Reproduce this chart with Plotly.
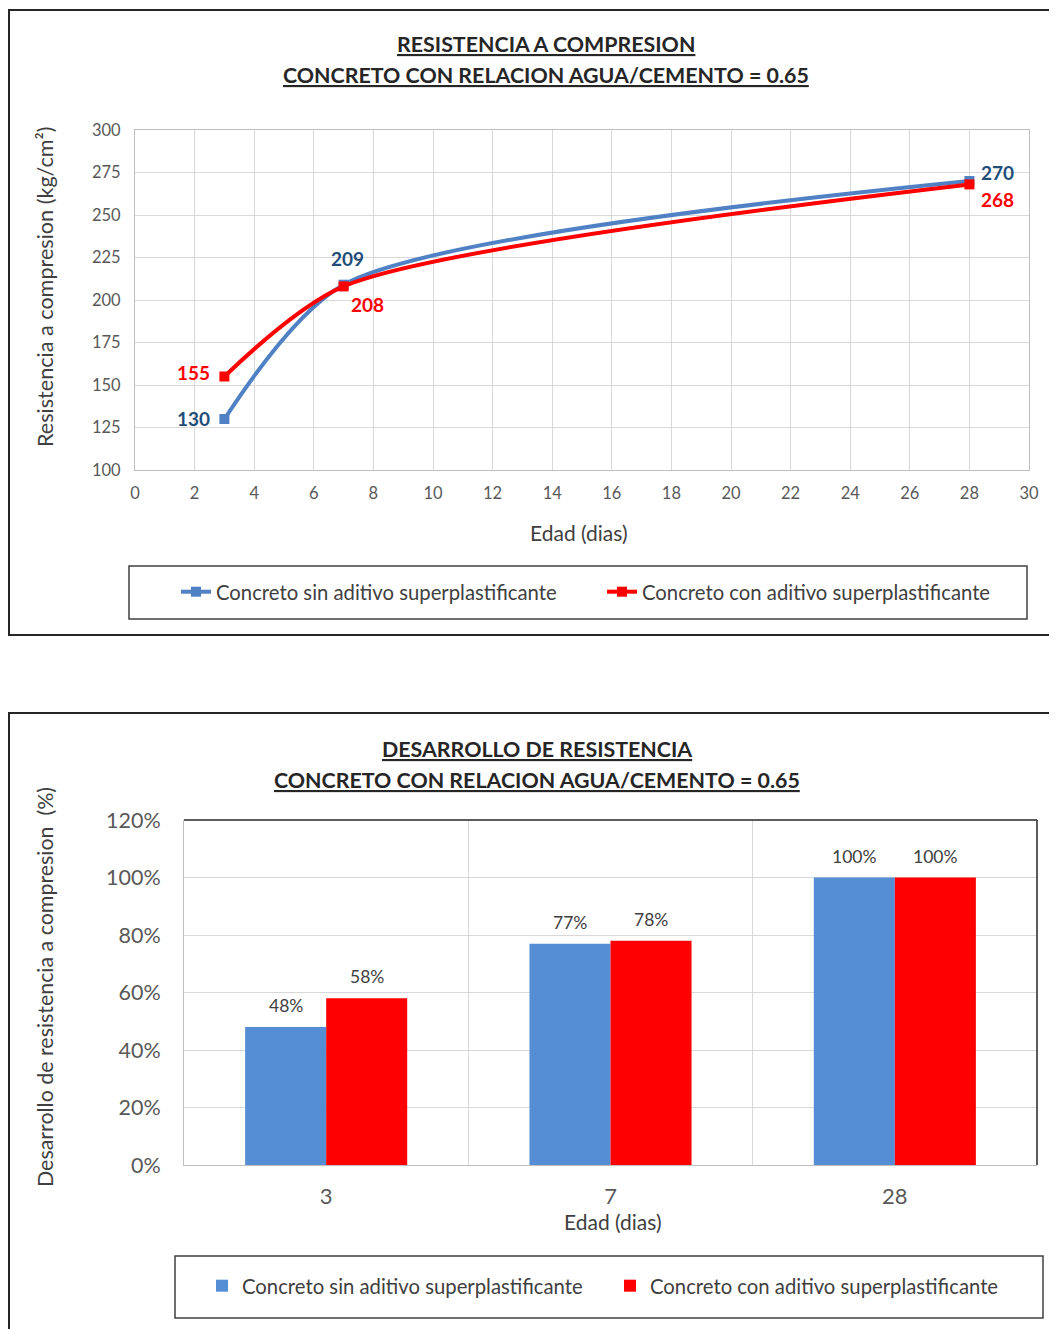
import plotly.graph_objects as go

W, H = 1057, 1329
OFF = 8  # page body margin of the html page
def px(x):
    return (x - OFF) / W
def py(y):
    return 1 - (y - OFF) / H

# ---------------- data ----------------
days = [3, 7, 28]
res_sin = [130, 209, 270]
res_con = [155, 208, 268]

edad_cat = ["3", "7", "28"]
dev_sin = [0.48, 0.77, 1.00]
dev_con = [0.58, 0.78, 1.00]

name_sin = "Concreto sin aditivo superplastificante"
name_con = "Concreto con aditivo superplastificante"

title_top = ["RESISTENCIA A COMPRESION", "CONCRETO CON RELACION AGUA/CEMENTO = 0.65"]
title_bot = ["DESARROLLO DE RESISTENCIA", "CONCRETO CON RELACION AGUA/CEMENTO = 0.65"]

# ---------------- styles ----------------
FONT = "Lato"
BLUE_LINE = "#4F81C4"
BLUE_BAR = "#558ED5"
RED = "#FF0000"
DARK_BLUE = "#1F4E79"
TXT = "#404040"
TICK = "#595959"
GRID = "#D9D9D9"
AXIS = "#BFBFBF"

# label offsets (px) for data labels: (xshift, yshift, xanchor)
off_sin = [(-12, 0, "right"), (4, 26, "center"), (10, 8, "left")]
off_con = [(-12, 4, "right"), (24, -18, "center"), (10, -15, "left")]
BAR_HALF = 40.5  # half bar width in px, for the bar value labels

fig = go.Figure()

fig.add_trace(go.Scatter(
    x=days, y=res_sin, name=name_sin, mode="lines+markers",
    line=dict(color=BLUE_LINE, width=4, shape="spline", smoothing=0.75),
    marker=dict(symbol="square", size=10, color=BLUE_LINE),
    xaxis="x", yaxis="y", legend="legend", cliponaxis=False,
))
fig.add_trace(go.Scatter(
    x=days, y=res_con, name=name_con, mode="lines+markers",
    line=dict(color=RED, width=4, shape="spline", smoothing=0.75),
    marker=dict(symbol="square", size=10, color=RED),
    xaxis="x", yaxis="y", legend="legend", cliponaxis=False,
))

fig.add_trace(go.Bar(
    x=edad_cat, y=dev_sin, name=name_sin, marker=dict(color=BLUE_BAR, line=dict(width=0)),
    xaxis="x2", yaxis="y2", legend="legend2",
))
fig.add_trace(go.Bar(
    x=edad_cat, y=dev_con, name=name_con, marker=dict(color=RED, line=dict(width=0)),
    xaxis="x2", yaxis="y2", legend="legend2",
))

annotations = []
for t, y in zip(title_top, [44, 75]):
    annotations.append(dict(text="<b><u>%s</u></b>" % t, x=px(546), y=py(y), xref="paper", yref="paper",
                            showarrow=False, xanchor="center", yanchor="middle",
                            font=dict(family=FONT, size=21.4, color="#262626")))
for t, y in zip(title_bot, [749, 780]):
    annotations.append(dict(text="<b><u>%s</u></b>" % t, x=px(537), y=py(y), xref="paper", yref="paper",
                            showarrow=False, xanchor="center", yanchor="middle",
                            font=dict(family=FONT, size=21.4, color="#262626")))

# data labels for line chart
for xs, ys, offs, col in [(days, res_sin, off_sin, DARK_BLUE), (days, res_con, off_con, RED)]:
    for xv, yv, (dx, dy, anc) in zip(xs, ys, offs):
        annotations.append(dict(text="<b>%d</b>" % yv, x=xv, y=yv, xref="x", yref="y",
                                showarrow=False, xanchor=anc, yanchor="middle",
                                xshift=dx, yshift=dy,
                                font=dict(family=FONT, size=19, color=col)))

# value labels for bar chart (x given as category index)
for vals, sh in [(dev_sin, -BAR_HALF), (dev_con, BAR_HALF)]:
    for i, v in enumerate(vals):
        annotations.append(dict(text="%d%%" % round(v * 100), x=i, y=v, xref="x2", yref="y2",
                                showarrow=False, xanchor="center", yanchor="bottom",
                                xshift=sh, yshift=9,
                                font=dict(family=FONT, size=17.5, color=TXT)))

# axis titles
annotations.append(dict(text="Resistencia a compresion (kg/cm²)", x=px(45), y=py(287),
                        xref="paper", yref="paper", showarrow=False, textangle=-90,
                        xanchor="center", yanchor="middle",
                        font=dict(family=FONT, size=21.6, color=TXT)))
annotations.append(dict(text="Edad (dias)", x=px(579), y=py(532), xref="paper", yref="paper",
                        showarrow=False, xanchor="center", yanchor="middle",
                        font=dict(family=FONT, size=21, color=TXT)))
annotations.append(dict(text="Desarrollo de resistencia a compresion  (%)", x=px(45), y=py(987),
                        xref="paper", yref="paper", showarrow=False, textangle=-90,
                        xanchor="center", yanchor="middle",
                        font=dict(family=FONT, size=21.4, color=TXT)))
annotations.append(dict(text="Edad (dias)", x=px(613), y=py(1221), xref="paper", yref="paper",
                        showarrow=False, xanchor="center", yanchor="middle",
                        font=dict(family=FONT, size=21, color=TXT)))

shapes = [
    # outer frames
    dict(type="rect", xref="paper", yref="paper", x0=px(9), x1=px(1080), y0=py(635), y1=py(10),
         line=dict(color="#262626", width=2)),
    dict(type="rect", xref="paper", yref="paper", x0=px(9), x1=px(1080), y0=py(1360), y1=py(713),
         line=dict(color="#262626", width=2)),
    # legend boxes
    dict(type="rect", xref="paper", yref="paper", x0=px(129), x1=px(1027), y0=py(619), y1=py(566),
         line=dict(color="#404040", width=1.5)),
    dict(type="rect", xref="paper", yref="paper", x0=px(175), x1=px(1043), y0=py(1318), y1=py(1256),
         line=dict(color="#404040", width=1.5)),
    # dark top/right border of bar plot
    dict(type="line", xref="x2 domain", yref="y2 domain", x0=0, x1=1, y0=1, y1=1,
         line=dict(color="#262626", width=1.5)),
    dict(type="line", xref="x2 domain", yref="y2 domain", x0=1, x1=1, y0=0, y1=1,
         line=dict(color="#262626", width=1.5)),
]

fig.update_layout(
    width=W, height=H,
    margin=dict(l=0, r=0, t=0, b=0, autoexpand=False),
    paper_bgcolor="white", plot_bgcolor="white",
    font=dict(family=FONT, color=TXT),
    barmode="group", bargap=0.43, bargroupgap=0,
    annotations=annotations, shapes=shapes,
    xaxis=dict(domain=[px(135), px(1029)], range=[0, 30], dtick=2, tick0=0,
               showgrid=True, gridcolor=GRID, gridwidth=1, zeroline=False,
               showline=True, linecolor=AXIS, mirror=True, ticks="",
               tickfont=dict(family=FONT, size=16.5, color=TICK), ticklabelstandoff=8,
               anchor="y", fixedrange=True, automargin=False),
    yaxis=dict(domain=[py(470), py(130)], range=[100, 300], dtick=25, tick0=100,
               showgrid=True, gridcolor=GRID, gridwidth=1, zeroline=False,
               showline=True, linecolor=AXIS, mirror=True, ticks="",
               tickfont=dict(family=FONT, size=16.5, color=TICK), ticklabelstandoff=10,
               anchor="x", fixedrange=True, automargin=False),
    xaxis2=dict(domain=[px(184), px(1037)], type="category", tickson="boundaries",
                categoryorder="array", categoryarray=edad_cat, range=[-0.5, len(edad_cat) - 0.5],
                showgrid=True, gridcolor=GRID, zeroline=False,
                showline=True, linecolor=AXIS, ticks="", tickangle=0,
                tickfont=dict(family=FONT, size=22, color=TICK), ticklabelstandoff=12,
                anchor="y2", fixedrange=True, automargin=False),
    yaxis2=dict(domain=[py(1165), py(820)], range=[0, 1.2], dtick=0.2, tick0=0, tickformat=".0%",
                showgrid=True, gridcolor=GRID, zeroline=False,
                showline=True, linecolor=AXIS, ticks="",
                tickfont=dict(family=FONT, size=21.5, color=TICK), ticklabelstandoff=18,
                anchor="x2", fixedrange=True, automargin=False),
    legend=dict(orientation="h", x=px(176), y=py(592), xanchor="left", yanchor="middle",
                bgcolor="rgba(0,0,0,0)", borderwidth=0, entrywidth=381, entrywidthmode="pixels",
                font=dict(family=FONT, size=20.3, color=TXT)),
    legend2=dict(orientation="h", x=px(202), y=py(1286), xanchor="left", yanchor="middle",
                 bgcolor="rgba(0,0,0,0)", borderwidth=0, entrywidth=363, entrywidthmode="pixels",
                 font=dict(family=FONT, size=20.3, color=TXT)),
    showlegend=True,
)

fig.write_html("out.html")
